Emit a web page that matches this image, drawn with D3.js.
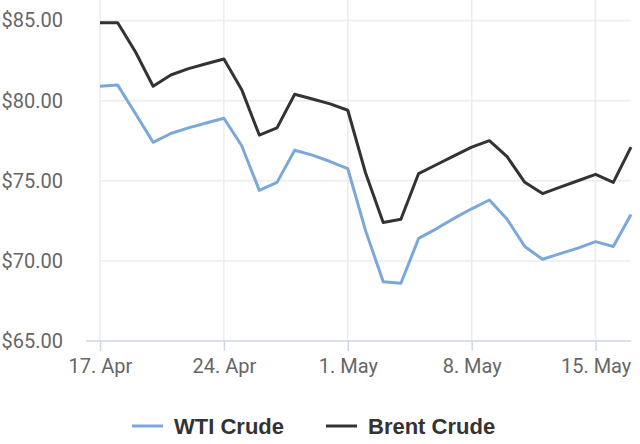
<!DOCTYPE html>
<meta charset="utf-8">
<style>
    body { margin: 0; background: #fff; }
    text { font-family: Roboto, "Helvetica Neue", Arial, sans-serif; }
    .legend text { font-family: "Liberation Sans", Arial, sans-serif; }
</style>
<svg width="640" height="444"></svg>
<script src="https://d3js.org/d3.v7.min.js"></script>
<script>
    // daily closes, 17 Apr -> 17 May
    const startDay = "2023-04-17"
    const wti = [80.9, 80.97, 79.2, 77.4, 77.95, 78.3, 78.6, 78.9, 77.2, 74.4, 74.9, 76.9, 76.6, 76.2, 75.75,
        71.9, 68.7, 68.6, 71.4, 72.0, 72.65, 73.25, 73.8, 72.6, 70.9, 70.1, 70.45, 70.8, 71.2, 70.9, 72.9]
    const brent = [84.86, 84.86, 83.05, 80.9, 81.6, 82.0, 82.3, 82.6, 80.7, 77.85, 78.3, 80.4, 80.1, 79.8, 79.4,
        75.5, 72.4, 72.6, 75.45, 76.0, 76.55, 77.1, 77.5, 76.5, 74.9, 74.2, 74.6, 75.0, 75.4, 74.9, 77.1]
    const xTicks = ["2023-04-17", "2023-04-24", "2023-05-01", "2023-05-08", "2023-05-15"]
    const yTicks = [65, 70, 75, 80, 85]
    const seriesNames = ["WTI Crude", "Brent Crude"]
    const seriesColors = ["#7ca8d9", "#333333"]

    const parse = d3.timeParse("%Y-%m-%d")
    const t0 = parse(startDay)
    const dates = wti.map((v, i) => d3.timeDay.offset(t0, i))

    const svg = d3.select("svg")
    const plotL = 100, plotR = 631, plotT = 0, plotB = 341

    const x = d3.scaleTime()
        .domain([t0, d3.timeDay.offset(t0, 30.35)])
        .range([plotL, plotR])
    const y = d3.scaleLinear().domain([65, 85]).range([plotB, 20.5])

    // grid
    svg.append("g").selectAll("line").data(yTicks.slice(1)).join("line")
        .attr("x1", plotL).attr("x2", plotR)
        .attr("y1", d => y(d)).attr("y2", d => y(d))
        .attr("stroke", "#ececec").attr("stroke-width", 1.5)
    svg.append("g").selectAll("line").data(xTicks.map(parse)).join("line")
        .attr("x1", d => x(d)).attr("x2", d => x(d))
        .attr("y1", plotT).attr("y2", plotB)
        .attr("stroke", "#ececec").attr("stroke-width", 1.5)

    // x axis
    const xAxis = svg.append("g")
        .attr("transform", `translate(0,${plotB})`)
        .call(d3.axisBottom(x)
            .tickValues(xTicks.map(parse))
            .tickFormat(d3.timeFormat("%-d. %b"))
            .tickSize(10).tickPadding(8))
    xAxis.select(".domain").attr("stroke", "#ccd6eb").attr("stroke-width", 1.5)
        .attr("d", `M${plotL - 14},0H${plotR}`)
    xAxis.selectAll(".tick line").attr("stroke", "#ccd6eb").attr("stroke-width", 1.5)
    xAxis.selectAll("text").attr("fill", "#666").style("font-size", "20px")

    // y axis
    const yAxis = svg.append("g")
        .attr("transform", `translate(${plotL},0)`)
        .call(d3.axisLeft(y).tickValues(yTicks)
            .tickFormat(d => "$" + d3.format(".2f")(d))
            .tickSize(0).tickPadding(37))
    yAxis.select(".domain").remove()
    yAxis.selectAll("text").attr("fill", "#666").style("font-size", "20px")

    // lines
    const line = d3.line().x((d, i) => x(dates[i])).y(d => y(d))
    ;[wti, brent].forEach((s, k) => {
        svg.append("path").datum(s)
            .attr("d", line)
            .attr("fill", "none")
            .attr("stroke", seriesColors[k])
            .attr("stroke-width", 3)
            .attr("stroke-linejoin", "round")
    })

    // legend
    const legendX = [132, 326]
    const lg = svg.append("g").attr("class", "legend")
        .selectAll("g").data(seriesNames).join("g")
        .attr("transform", (d, i) => `translate(${legendX[i]},426)`)
    lg.append("line").attr("x1", 0).attr("x2", 31)
        .attr("stroke", (d, i) => seriesColors[i]).attr("stroke-width", 3)
    lg.append("text").attr("x", 42).attr("dy", "0.35em")
        .attr("fill", "#333").style("font-size", "22px").style("font-weight", "bold")
        .text(d => d)
</script>
